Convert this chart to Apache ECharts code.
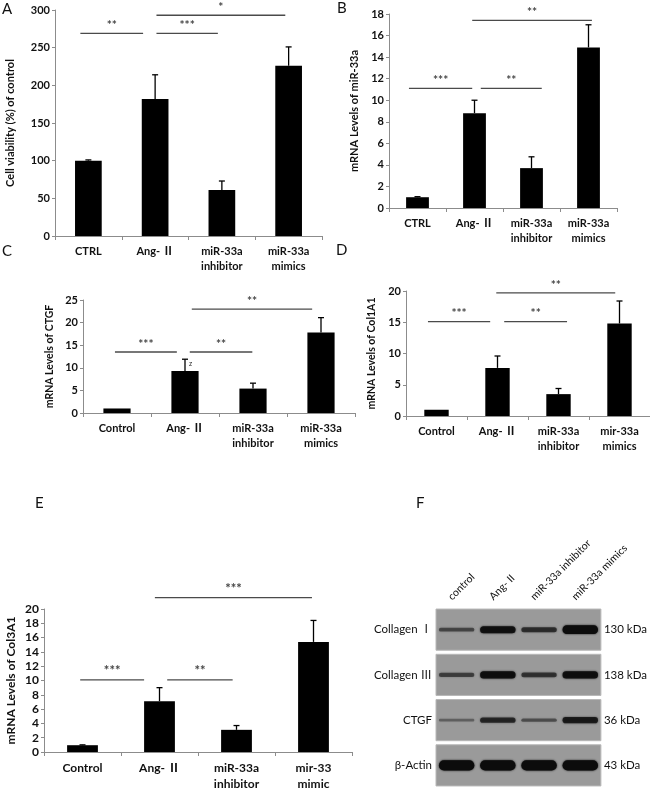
<!DOCTYPE html>
<html>
<head>
<meta charset="utf-8">
<script src="https://cdn.jsdelivr.net/npm/echarts@6/dist/echarts.min.js"></script>
<style>html,body{margin:0;padding:0;background:#fff}#c{width:650px;height:792px}</style>
</head>
<body>
<div id="c"></div>
<script>
// ---------- data ----------
const catsA = ['CTRL', 'Ang- Ⅱ', 'miR-33a\ninhibitor', 'miR-33a\nmimics'];
const valsA = [100, 182, 61, 226];
const errA = [1, 32, 12, 25];
const sigA = [[-0.12, 0.82, 269, '**'], [1.02, 1.94, 269, '***'], [1.02, 2.95, 293, '*']];

const catsB = ['CTRL', 'Ang- Ⅱ', 'miR-33a\ninhibitor', 'miR-33a\nmimics'];
const valsB = [1.0, 8.8, 3.7, 14.9];
const errB = [0.05, 1.2, 1.05, 2.1];
const sigB = [[-0.15, 0.96, 11.1, '***'], [1.11, 2.18, 11.1, '**'], [0.96, 3.06, 17.4, '**']];

const catsC = ['Control', 'Ang- Ⅱ', 'miR-33a\ninhibitor', 'miR-33a\nmimics'];
const valsC = [1.0, 9.3, 5.4, 17.8];
const errC = [0, 2.6, 1.2, 3.3];
const noteC = ['', 'z', '', ''];
const sigC = [[-0.03, 0.88, 13.5, '***'], [1.07, 1.99, 13.5, '**'], [1.10, 2.87, 23, '**']];

const catsD = ['Control', 'Ang- Ⅱ', 'miR-33a\ninhibitor', 'mir-33a\nmimics'];
const valsD = [1.0, 7.7, 3.5, 14.8];
const errD = [0, 1.9, 0.9, 3.6];
const sigD = [[-0.14, 0.88, 15.1, '***'], [1.11, 2.14, 15.1, '**'], [0.98, 2.93, 19.7, '**']];

const catsE = ['Control', 'Ang- Ⅱ', 'miR-33a\ninhibitor', 'mir-33\nmimic'];
const valsE = [0.95, 7.1, 3.1, 15.4];
const errE = [0.05, 1.9, 0.6, 3.0];
const sigE = [[-0.03, 0.80, 10.1, '***'], [1.10, 1.95, 10.1, '**'], [0.94, 2.98, 21.6, '***']];

const blotLanes = ['control', 'Ang- II', 'miR-33a inhibitor', 'miR-33a mimics'];
const blotRows = ['Collagen Ⅰ', 'Collagen Ⅲ', 'CTGF', 'β-Actin'];
const blotKda = ['130 kDa', '138 kDa', '36 kDa', '43 kDa'];
const bandCollagenI = [0.2, 0.6, 0.35, 0.8];
const bandCollagenIII = [0.25, 0.62, 0.32, 0.62];
const bandCTGF = [0.05, 0.4, 0.15, 0.5];
const bandActin = [1, 1, 1, 1];

// ---------- build ----------
const FF = "Lato, 'Noto Sans CJK SC', sans-serif";
const AX = '#8c8c8c';
const grids = [], xAxes = [], yAxes = [], series = [];

function barPanel(cats, vals, errs, notes, sig, yMax, yInt, yName, L) {
  const k = grids.length;
  grids.push({left: L.left, top: L.top, width: L.width, height: L.height});
  xAxes.push({
    gridIndex: k, type: 'category', data: cats,
    axisLine: {lineStyle: {color: AX, width: 1}},
    axisTick: {show: true, length: 4, lineStyle: {color: AX}},
    axisLabel: {color: '#111', fontWeight: 'bold', fontSize: L.fs, fontFamily: FF,
      lineHeight: L.fs + 4, margin: 8, interval: 0, verticalAlign: 'top'}
  });
  yAxes.push({
    gridIndex: k, type: 'value', min: 0, max: yMax, interval: yInt,
    axisLine: {show: true, lineStyle: {color: AX, width: 1}},
    axisTick: {show: true, length: 3, lineStyle: {color: AX}},
    splitLine: {show: false},
    axisLabel: {color: '#111', fontWeight: 'bold', fontSize: L.fs, fontFamily: FF, margin: 5},
    name: yName, nameLocation: 'middle', nameGap: L.nameGap, nameRotate: 90,
    nameTextStyle: {color: '#111', fontWeight: 'bold', fontSize: L.nfs, fontFamily: FF}
  });
  series.push({
    type: 'bar', xAxisIndex: k, yAxisIndex: k, data: vals, barWidth: '40%',
    itemStyle: {color: '#000'}, silent: true, animation: false
  });
  series.push({
    type: 'custom', xAxisIndex: k, yAxisIndex: k, animation: false, silent: true,
    encode: {x: 0, y: 1},
    data: vals.map((v, i) => [i, v, errs[i]]),
    renderItem: function (params, api) {
      const i = api.value(0), v = api.value(1), e = api.value(2);
      const ch = [];
      if (e > 0) {
        const base = api.coord([i, v]);
        const top = api.coord([i, v + e]);
        ch.push({type: 'line', shape: {x1: top[0], y1: base[1], x2: top[0], y2: top[1]},
          style: {stroke: '#000', lineWidth: 1.3}});
        ch.push({type: 'line', shape: {x1: top[0] - 3, y1: top[1], x2: top[0] + 3, y2: top[1]},
          style: {stroke: '#000', lineWidth: 1.3}});
        if (notes && notes[i]) {
          ch.push({type: 'text', x: top[0] + 4, y: top[1] + 1,
            style: {text: notes[i], fill: '#222', font: '7px ' + FF, textAlign: 'left', textVerticalAlign: 'top'}});
        }
      }
      return {type: 'group', children: ch};
    }
  });
  series.push({
    type: 'custom', xAxisIndex: k, yAxisIndex: k, animation: false, silent: true,
    encode: {x: 0, y: 1},
    data: sig.map((s, j) => [Math.max(0, Math.round(s[0])), s[2], s[0], s[1], j]),
    renderItem: function (params, api) {
      const y = api.value(1), x1 = api.value(2), x2 = api.value(3), j = api.value(4);
      const c0 = api.coord([0, y]);
      const bw = api.size([1, 0])[0];
      const a = c0[0] + x1 * bw, b = c0[0] + x2 * bw;
      return {type: 'group', children: [
        {type: 'line', shape: {x1: a, y1: c0[1], x2: b, y2: c0[1]}, style: {stroke: '#4a4a4a', lineWidth: 1.3}},
        {type: 'text', x: (a + b) / 2, y: c0[1] - 2,
          style: {text: sig[j][3], fill: '#444', font: 'bold ' + L.sfs + 'px ' + FF, textAlign: 'center', textVerticalAlign: 'bottom'}}
      ]};
    }
  });
}

barPanel(catsA, valsA, errA, null, sigA, 300, 50, 'Cell viability (%) of control',
  {left: 55, top: 10, width: 267, height: 226, fs: 11, nfs: 11, nameGap: 39, sfs: 12});
barPanel(catsB, valsB, errB, null, sigB, 18, 2, 'mRNA Levels of miR-33a',
  {left: 389, top: 14, width: 228, height: 194, fs: 11, nfs: 11, nameGap: 29, sfs: 12});
barPanel(catsC, valsC, errC, noteC, sigC, 25, 5, 'mRNA Levels of CTGF',
  {left: 83, top: 300, width: 272, height: 113, fs: 11, nfs: 10.5, nameGap: 28, sfs: 12});
barPanel(catsD, valsD, errD, null, sigD, 20, 5, 'mRNA Levels of Col1A1',
  {left: 406, top: 291, width: 244, height: 125, fs: 11, nfs: 10.5, nameGap: 29, sfs: 12});
barPanel(catsE, valsE, errE, null, sigE, 20, 2, 'mRNA Levels of Col3A1',
  {left: 44, top: 609, width: 308, height: 148, fs: 12, nfs: 12, nameGap: 27, sfs: 13});

// ---------- western blot panel ----------
const kb = grids.length;
grids.push({left: 436, top: 607, width: 167, height: 181});
xAxes.push({
  gridIndex: kb, type: 'category', data: blotLanes, position: 'top',
  axisLine: {show: false}, axisTick: {show: false},
  axisLabel: {show: false}
});
yAxes.push({
  gridIndex: kb, type: 'category', data: blotRows, inverse: true, position: 'left',
  axisLine: {show: false}, axisTick: {show: false},
  axisLabel: {color: '#111', fontSize: 11.5, fontFamily: FF, margin: 4}
});
yAxes.push({
  gridIndex: kb, type: 'category', data: blotKda, inverse: true, position: 'right',
  axisLine: {show: false}, axisTick: {show: false},
  axisLabel: {color: '#111', fontSize: 11.5, fontFamily: FF, margin: 3}
});
const kyB = yAxes.length - 2;
series.push({
  type: 'custom', xAxisIndex: kb, yAxisIndex: kyB, animation: false, silent: true,
  encode: {x: 0, y: 1},
  data: blotRows.map((r, i) => [0, i]),
  renderItem: function (params, api) {
    const cs = params.coordSys;
    const c = api.coord([0, api.value(1)]);
    const bh = api.size([0, 1])[1] * 0.91;
    return {type: 'rect', shape: {x: cs.x, y: c[1] - bh / 2, width: cs.width, height: bh},
      style: {fill: '#9a9a9a', stroke: '#b8b8b8', lineWidth: 1}};
  }
});
const bands = [bandCollagenI, bandCollagenIII, bandCTGF, bandActin];
const bandData = [];
bands.forEach((row, r) => row.forEach((v, l) => bandData.push([l, r, v])));
series.push({
  type: 'custom', xAxisIndex: kb, yAxisIndex: kyB, animation: false, silent: true,
  encode: {x: 0, y: 1},
  data: bandData,
  renderItem: function (params, api) {
    const c = api.coord([api.value(0), api.value(1)]);
    const I = api.value(2);
    const w = api.size([1, 0])[0] * 0.86;
    const h = 2.2 + 8 * I;
    const a = Math.min(1, 0.3 + 1.0 * I);
    const col = 'rgba(12,12,12,' + a + ')';
    return {type: 'rect', shape: {x: c[0] - w / 2, y: c[1] - h / 2, width: w, height: h, r: h / 2},
      style: {fill: col, shadowBlur: 2, shadowColor: col}};
  }
});
// rotated lane labels (text placed at each lane via the category axis)
series.push({
  type: 'custom', xAxisIndex: kb, yAxisIndex: kyB, animation: false, silent: true,
  encode: {x: 0, y: 1},
  data: blotLanes.map((n, l) => [l, 0]),
  renderItem: function (params, api) {
    const l = api.value(0);
    const c = api.coord([l, 0]);
    const cs = params.coordSys;
    return {type: 'text', x: c[0] - 3, y: cs.y - 5, rotation: Math.PI / 4,
      style: {text: blotLanes[l], fill: '#111', font: '10.5px ' + FF, textAlign: 'left', textVerticalAlign: 'bottom'}};
  }
});

// ---------- panel letters ----------
const letters = [['A', 2, 2], ['B', 337, 1], ['C', 2, 244], ['D', 336, 243], ['E', 35, 496], ['F', 416, 496]];

const chart = echarts.init(document.getElementById('c'), null, {renderer: 'canvas'});
chart.setOption({
  animation: false,
  grid: grids, xAxis: xAxes, yAxis: yAxes, series: series,
  graphic: letters.map(l => ({type: 'text', left: l[1], top: l[2],
    style: {text: l[0], font: '15px ' + FF, fill: '#111'}}))
});
</script>
</body>
</html>
